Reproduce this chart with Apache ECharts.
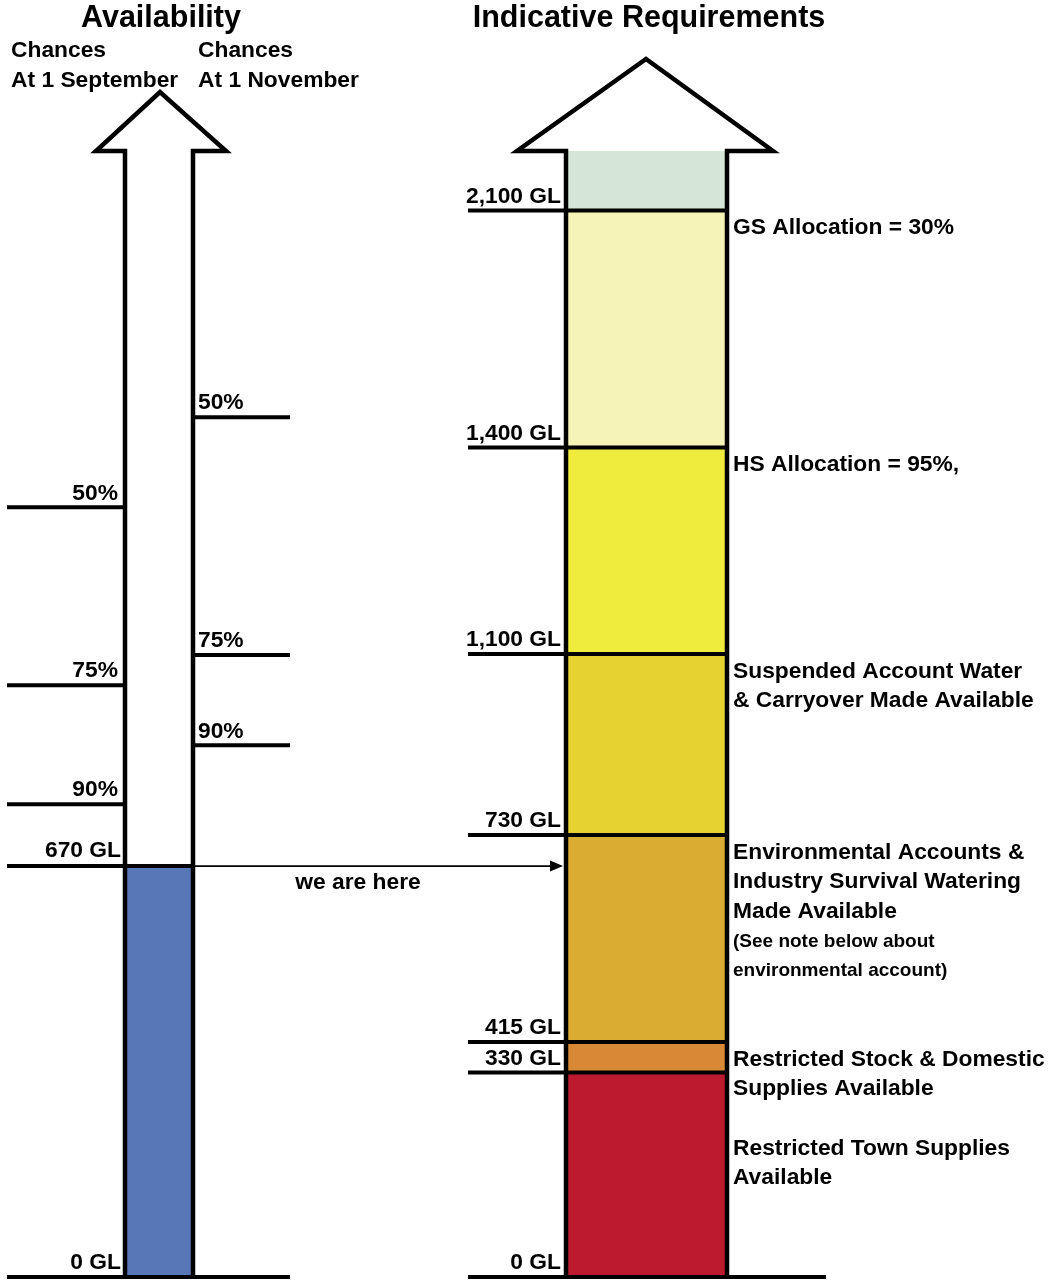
<!DOCTYPE html>
<html>
<head>
<meta charset="utf-8">
<script src="https://cdn.jsdelivr.net/npm/echarts@6/dist/echarts.min.js"></script>
<style>
html,body{margin:0;padding:0;background:#fff;}
#chart{width:1052px;height:1281px;}
</style>
</head>
<body>
<div id="chart"></div>
<script>
// ---------------- DATA ----------------
const availabilityTitle = 'Availability';
const requirementsTitle = 'Indicative Requirements';
const septHeader = ['Chances', 'At 1 September'];
const novHeader = ['Chances', 'At 1 November'];

// Chance levels (GL)
const septChanceLabels = ['50%', '75%', '90%'];
const septChanceGL = [1255, 965, 771];
const novChanceLabels = ['50%', '75%', '90%'];
const novChanceGL = [1402, 1014, 867];

// Current storage
const currentGL = [670];
const currentLabel = 'we are here';

// Requirement thresholds (GL)
const reqThresholdsGL = [0, 330, 415, 730, 1100, 1400, 2100];

// Notes attached to thresholds
const reqNoteAt = [2100, 1400, 1100, 730, 415];
const reqNoteLines = [
  ['GS Allocation = 30%'],
  ['HS Allocation = 95%,'],
  ['Suspended Account Water', '& Carryover Made Available'],
  ['Environmental Accounts &', 'Industry Survival Watering', 'Made Available', '(See note below about', 'environmental account)'],
  ['Restricted Stock & Domestic', 'Supplies Available', '', 'Restricted Town Supplies', 'Available']
];
const reqNoteSmallFrom = [99, 99, 99, 3, 99]; // line index from which text is small

// ---------------- STYLE / LAYOUT ----------------
const FONT = '"Liberation Sans", Arial, Helvetica, sans-serif';
const FS = 22.8;       // normal text size
const FS_SMALL = 19;   // small note text
const FS_TITLE = 30.5; // headings
const reqBandColors = ['#be1a2f', '#d98935', '#daad32', '#e6d231', '#f0ec3d', '#f6f3b9', '#d6e6d6'];
const blue = '#5877b7';
// schematic (non-linear) ruler used by the requirements column, px above base
const reqRulerPx = [0, 204.5, 235, 442, 623, 829.5, 1066.5];
const RULER_MAX = 1126;
const GL_MAX_LEFT = 1836;
const L = {
  top: 151, bottom: 4,
  a: { x0: 125, x1: 193, headL: 96, headR: 226, apexX: 160, apexY: 92 },
  r: { x0: 566, x1: 727, headL: 517, headR: 773, apexX: 646, apexY: 59 },
  septTick: [7, 125], novTick: [193, 290], leftBase: [7, 290],
  rightTick: 468, rightBaseEnd: 826,
  leftLabelX: 121, novLabelX: 198, rightLabelX: 561, noteX: 733,
  labelDy: -14, noteDy: 17.5, noteLH: 29.6,
  arrowTipX: 563, hereX: 358, hereDy: 17
};

function toRuler(gl) {
  const t = reqThresholdsGL, r = reqRulerPx;
  for (let i = 1; i < t.length; i++) {
    if (gl <= t[i]) return r[i - 1] + (gl - t[i - 1]) / (t[i] - t[i - 1]) * (r[i] - r[i - 1]);
  }
  return r[r.length - 1];
}
function txt(text, x, y, size, align, weight) {
  return { type: 'text', style: { text: text, x: x, y: y, fill: '#000', fontSize: size,
    fontWeight: weight || 'bold', fontFamily: FONT, align: align || 'left', verticalAlign: 'middle' } };
}
function seg(x1, y1, x2, y2, w) {
  return { type: 'line', shape: { x1: x1, y1: y1, x2: x2, y2: y2 }, style: { stroke: '#000', lineWidth: w, lineCap: 'butt' } };
}
function arrowOutline(cs, c) {
  const top = cs.y, bot = cs.y + cs.height;
  return { type: 'polyline', shape: { points: [[c.x0, bot], [c.x0, top], [c.headL, top], [c.apexX, c.apexY], [c.headR, top], [c.x1, top], [c.x1, bot]] },
    style: { stroke: '#000', lineWidth: 4.5, fill: null, lineJoin: 'miter' } };
}
function heading(text, x, y, size, align) {
  return { type: 'text', x: x, y: y, style: { text: text, fontSize: size, fontWeight: 'bold', fontFamily: FONT, fill: '#000', align: align, verticalAlign: 'middle' } };
}

const chart = echarts.init(document.getElementById('chart'), null, { renderer: 'canvas' });

const base = { type: 'custom', coordinateSystem: 'cartesian2d', xAxisIndex: 0, clip: false, silent: true, animation: false, encode: { x: 0, y: 1 } };

const option = {
  backgroundColor: '#ffffff',
  animation: false,
  grid: { left: 0, right: 0, top: L.top, bottom: L.bottom, containLabel: false },
  xAxis: { type: 'value', min: 0, max: 1052, show: false },
  yAxis: [
    { type: 'value', min: 0, max: GL_MAX_LEFT, show: false },
    { type: 'value', min: 0, max: RULER_MAX, show: false }
  ],
  graphic: [
    heading(availabilityTitle, 161, 19, FS_TITLE, 'center'),
    heading(requirementsTitle, 649, 19, FS_TITLE, 'center'),
    heading(septHeader[0], 11, 51, FS, 'left'),
    heading(septHeader[1], 11, 81, FS, 'left'),
    heading(novHeader[0], 198, 51, FS, 'left'),
    heading(novHeader[1], 198, 81, FS, 'left')
  ],
  series: [
    // requirement bands (fills)
    Object.assign({}, base, {
      name: 'bands', yAxisIndex: 1, z: 1,
      data: reqThresholdsGL.map(v => [0, toRuler(v)]),
      renderItem: function (params, api) {
        const i = params.dataIndex, cs = params.coordSys;
        const yLo = api.coord([0, api.value(1)])[1];
        const yHi = i + 1 < reqThresholdsGL.length ? api.coord([0, toRuler(reqThresholdsGL[i + 1])])[1] : cs.y;
        return { type: 'rect', shape: { x: L.r.x0, y: yHi, width: L.r.x1 - L.r.x0, height: yLo - yHi }, style: { fill: reqBandColors[i] } };
      }
    }),
    // requirement threshold lines + labels
    Object.assign({}, base, {
      name: 'thresholds', yAxisIndex: 1, z: 3,
      data: reqThresholdsGL.map(v => [0, toRuler(v)]),
      renderItem: function (params, api) {
        const i = params.dataIndex;
        const y = api.coord([0, api.value(1)])[1];
        const end = reqThresholdsGL[i] === 0 ? L.rightBaseEnd : L.r.x1;
        return { type: 'group', children: [
          seg(L.rightTick, y, end, y, 4),
          txt(reqThresholdsGL[i].toLocaleString('en-US') + ' GL', L.rightLabelX, y + L.labelDy, FS, 'right')
        ] };
      }
    }),
    // notes
    Object.assign({}, base, {
      name: 'notes', yAxisIndex: 1, z: 3,
      data: reqNoteAt.map(v => [0, toRuler(v)]),
      renderItem: function (params, api) {
        const i = params.dataIndex;
        const y = api.coord([0, api.value(1)])[1];
        const kids = reqNoteLines[i].map((t, k) => txt(t, L.noteX, y + L.noteDy + k * L.noteLH, k >= reqNoteSmallFrom[i] ? FS_SMALL : FS, 'left'));
        return { type: 'group', children: kids };
      }
    }),
    // requirements arrow outline
    Object.assign({}, base, {
      name: 'reqArrow', yAxisIndex: 1, z: 4,
      data: [[0, RULER_MAX]],
      renderItem: function (params) { return arrowOutline(params.coordSys, L.r); }
    }),
    // current storage (blue fill)
    Object.assign({}, base, {
      name: 'storage', yAxisIndex: 0, z: 1,
      data: currentGL.map(v => [0, v]),
      renderItem: function (params, api) {
        const y = api.coord([0, api.value(1)])[1];
        const y0 = api.coord([0, 0])[1];
        return { type: 'rect', shape: { x: L.a.x0, y: y, width: L.a.x1 - L.a.x0, height: y0 - y }, style: { fill: blue } };
      }
    }),
    // current storage line, label and pointer
    Object.assign({}, base, {
      name: 'current', yAxisIndex: 0, z: 3,
      data: currentGL.map(v => [0, v]),
      renderItem: function (params, api) {
        const v = api.value(1);
        const y = api.coord([0, v])[1];
        return { type: 'group', children: [
          seg(L.septTick[0], y, L.a.x1, y, 4),
          seg(L.a.x1, y, L.arrowTipX - 10, y, 1.6),
          { type: 'polygon', shape: { points: [[L.arrowTipX, y], [L.arrowTipX - 13, y - 5.5], [L.arrowTipX - 13, y + 5.5]] }, style: { fill: '#000' } },
          txt(v + ' GL', L.leftLabelX, y + L.labelDy - 1, FS, 'right'),
          txt(currentLabel, L.hereX, y + L.hereDy, FS, 'center')
        ] };
      }
    }),
    // September chances
    Object.assign({}, base, {
      name: 'sept', yAxisIndex: 0, z: 3,
      data: septChanceGL.map(v => [0, v]),
      renderItem: function (params, api) {
        const y = api.coord([0, api.value(1)])[1];
        return { type: 'group', children: [
          seg(L.septTick[0], y, L.septTick[1], y, 4),
          txt(septChanceLabels[params.dataIndex], L.leftLabelX - 3, y + L.labelDy, FS, 'right')
        ] };
      }
    }),
    // November chances
    Object.assign({}, base, {
      name: 'nov', yAxisIndex: 0, z: 3,
      data: novChanceGL.map(v => [0, v]),
      renderItem: function (params, api) {
        const y = api.coord([0, api.value(1)])[1];
        return { type: 'group', children: [
          seg(L.novTick[0], y, L.novTick[1], y, 4),
          txt(novChanceLabels[params.dataIndex], L.novLabelX, y + L.labelDy, FS, 'left')
        ] };
      }
    }),
    // availability arrow outline + base
    Object.assign({}, base, {
      name: 'availArrow', yAxisIndex: 0, z: 4,
      data: [[0, 0]],
      renderItem: function (params, api) {
        const y0 = api.coord([0, api.value(1)])[1];
        return { type: 'group', children: [
          arrowOutline(params.coordSys, L.a),
          seg(L.leftBase[0], y0, L.leftBase[1], y0, 4),
          txt('0 GL', L.leftLabelX, y0 + L.labelDy, FS, 'right')
        ] };
      }
    })
  ]
};
chart.setOption(option);
</script>
</body>
</html>
